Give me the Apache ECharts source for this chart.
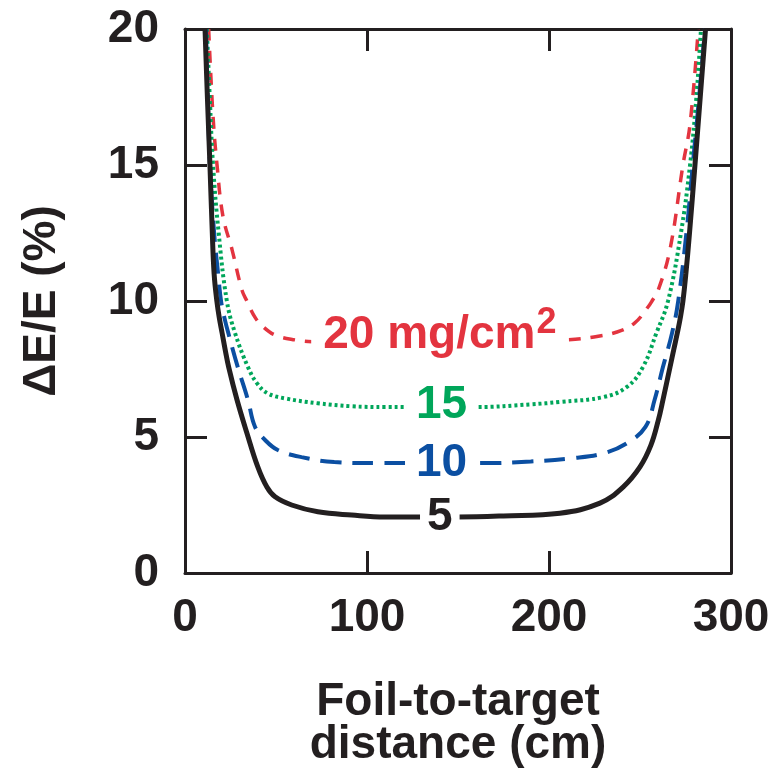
<!DOCTYPE html>
<html>
<head>
<meta charset="utf-8">
<script src="https://cdn.jsdelivr.net/npm/echarts@6/dist/echarts.min.js"></script>
<style>
  html, body { margin: 0; padding: 0; background: #fff; }
  #chart { width: 782px; height: 783px; }
</style>
</head>
<body>
<div id="chart"></div>
<script>
// curves: [foil-to-target distance (cm), dE/E (%)]
var curve5 = [
    [11, 20], [12.3, 17.5], [13.7, 15], [15.0, 12.5], [16.0, 11], [17.5, 10], [18.8, 9.4],
    [20.4, 8.82], [22.1, 8.2], [24, 7.57], [28.6, 6.36], [34, 5.15], [40, 3.9], [45, 3.16],
    [49.5, 2.8], [58.6, 2.5], [73, 2.25], [91.6, 2.13], [110, 2.06], [150, 2.06], [175, 2.1],
    [206, 2.2], [228, 2.57], [240.7, 3.16], [250, 3.9], [256, 4.7], [260, 5.6], [262.6, 6.36],
    [266.5, 7.57], [268.5, 8.2], [270.5, 8.82], [272.2, 9.4], [273.6, 10], [275.2, 11],
    [277.2, 12.5], [280.2, 15], [283.1, 17.5], [286, 20]
];
var curve10 = [
    [11.5, 20], [12.5, 17.5], [13.7, 15], [16.0, 12.5], [18.2, 11], [19.8, 10], [21.6, 9.4],
    [23.8, 8.82], [29, 7.57], [34.6, 6.36], [38.5, 5.37], [44, 4.89], [51, 4.52], [64, 4.26],
    [82, 4.08], [106, 4.04], [164, 4.04], [190, 4.1], [213, 4.22], [230, 4.4], [243, 4.78],
    [253, 5.37], [258, 6.36], [262.6, 7.57], [267.6, 8.82], [271, 10], [275.5, 12.5],
    [279, 15], [282.5, 17.5], [285.7, 20]
];
var curve15 = [
    [12, 20], [13.6, 17.5], [15.4, 15], [18.5, 12.5], [23, 10], [27.5, 8.82], [34.6, 7.57],
    [39.6, 6.97], [45.6, 6.6], [55, 6.42], [73, 6.24], [91.6, 6.13], [110, 6.1], [160, 6.1],
    [190, 6.2], [206, 6.29], [230, 6.47], [243, 6.85], [251.6, 7.57], [259, 8.82],
    [265.4, 10], [272.5, 12.5], [277.5, 15], [281, 17.5], [283.5, 20]
];
var curve20 = [
    [13, 20], [15.4, 16.8], [17.6, 15], [20.9, 13.1], [25.8, 11.9], [31.3, 10.4],
    [34, 10], [38.5, 9.4], [43, 9.05], [49.5, 8.75], [60.4, 8.57], [70, 8.5], [100, 8.45],
    [140, 8.45], [180, 8.5], [210, 8.57], [224.7, 8.68], [237.4, 8.86], [247, 9.19],
    [254.4, 9.78], [256.6, 10], [260, 10.4], [266.5, 11.9], [273.6, 15], [277.5, 16.5], [282, 20]
];

// in-plot labels: [text, x, y]
var label5 = ['5', 140, 2.06];
var label10 = ['10', 141, 4.04];
var label15 = ['15', 141, 6.15];
var label20 = ['{a|20 mg/cm}{s|2}', 140, 8.73];

var xTicks = [0, 300, 100];   // min, max, interval
var yTicks = [0, 20, 5];

var ink = '#231f20';
var red = '#e3343f';
var green = '#00a65a';
var blue = '#0b4fa2';
var font = 'Liberation Sans, Arial, Helvetica, sans-serif';

var myChart = echarts.init(document.getElementById('chart'));

//label placed on a curve, white box hides the line behind it
function curveLabel(lab, color, pad) {
    return {
        symbol: 'circle',
        symbolSize: 1,
        itemStyle: { color: 'rgba(0,0,0,0)' },
        silent: true,
        data: [{
            coord: [lab[1], lab[2]],
            label: {
                show: true,
                position: 'inside',
                formatter: lab[0],
                color: color,
                fontFamily: font,
                fontWeight: 'bold',
                fontSize: 46,
                lineHeight: 46,
                backgroundColor: '#fff',
                padding: pad,
                rich: {
                    a: { color: color, fontFamily: font, fontWeight: 'bold', fontSize: 46, lineHeight: 46, verticalAlign: 'bottom' },
                    s: { color: color, fontFamily: font, fontWeight: 'bold', fontSize: 36, lineHeight: 36, verticalAlign: 'bottom', padding: [0, 0, 17, 1] }
                }
            }
        }]
    };
}

var frameLine = { show: true, onZero: false, lineStyle: { color: ink, width: 3 } };
var frameTick = { show: true, inside: true, length: 22, lineStyle: { color: ink, width: 3 } };

option = {
    animation: false,
    backgroundColor: '#fff',
    grid: { left: 185, top: 29, width: 546, height: 544, containLabel: false, outerBoundsMode: 'none' },
    xAxis: [
        {
            type: 'value',
            position: 'bottom',
            min: xTicks[0], max: xTicks[1], interval: xTicks[2],
            name: 'Foil-to-target\ndistance (cm)',
            nameLocation: 'middle',
            nameGap: 108,
            nameTextStyle: { color: ink, fontFamily: font, fontWeight: 'bold', fontSize: 46, lineHeight: 43 },
            axisLine: frameLine,
            axisTick: frameTick,
            splitLine: { show: false },
            axisLabel: { color: ink, fontFamily: font, fontWeight: 'bold', fontSize: 46, margin: 22 }
        },
        {
            type: 'value',
            position: 'top',
            min: xTicks[0], max: xTicks[1], interval: xTicks[2],
            axisLine: frameLine,
            axisTick: frameTick,
            splitLine: { show: false },
            axisLabel: { show: false }
        }
    ],
    yAxis: [
        {
            type: 'value',
            position: 'left',
            min: yTicks[0], max: yTicks[1], interval: yTicks[2],
            name: 'ΔE/E (%)',
            nameLocation: 'middle',
            nameRotate: 90,
            nameGap: 120,
            nameTextStyle: { color: ink, fontFamily: font, fontWeight: 'bold', fontSize: 46 },
            axisLine: frameLine,
            axisTick: frameTick,
            splitLine: { show: false },
            axisLabel: { color: ink, fontFamily: font, fontWeight: 'bold', fontSize: 46, margin: 26 }
        },
        {
            type: 'value',
            position: 'right',
            min: yTicks[0], max: yTicks[1], interval: yTicks[2],
            axisLine: frameLine,
            axisTick: frameTick,
            splitLine: { show: false },
            axisLabel: { show: false }
        }
    ],
    series: [
        {
            name: '20',
            type: 'line',
            data: curve20,
            smooth: 0.4,
            showSymbol: false,
            lineStyle: { color: red, width: 3.5, type: [12, 10] },
            markPoint: curveLabel(label20, red, [0, 12])
        },
        {
            name: '15',
            type: 'line',
            data: curve15,
            smooth: 0.4,
            showSymbol: false,
            lineStyle: { color: green, width: 4, type: [3, 3] },
            markPoint: curveLabel(label15, green, [0, 10])
        },
        {
            name: '10',
            type: 'line',
            data: curve10,
            smooth: 0.4,
            showSymbol: false,
            lineStyle: { color: blue, width: 4, type: [21, 11] },
            markPoint: curveLabel(label10, blue, [0, 11])
        },
        {
            name: '5',
            type: 'line',
            data: curve5,
            smooth: 0.4,
            showSymbol: false,
            lineStyle: { color: ink, width: 5 },
            markPoint: curveLabel(label5, ink, [0, 7])
        }
    ]
};
myChart.setOption(option);
</script>
</body>
</html>
